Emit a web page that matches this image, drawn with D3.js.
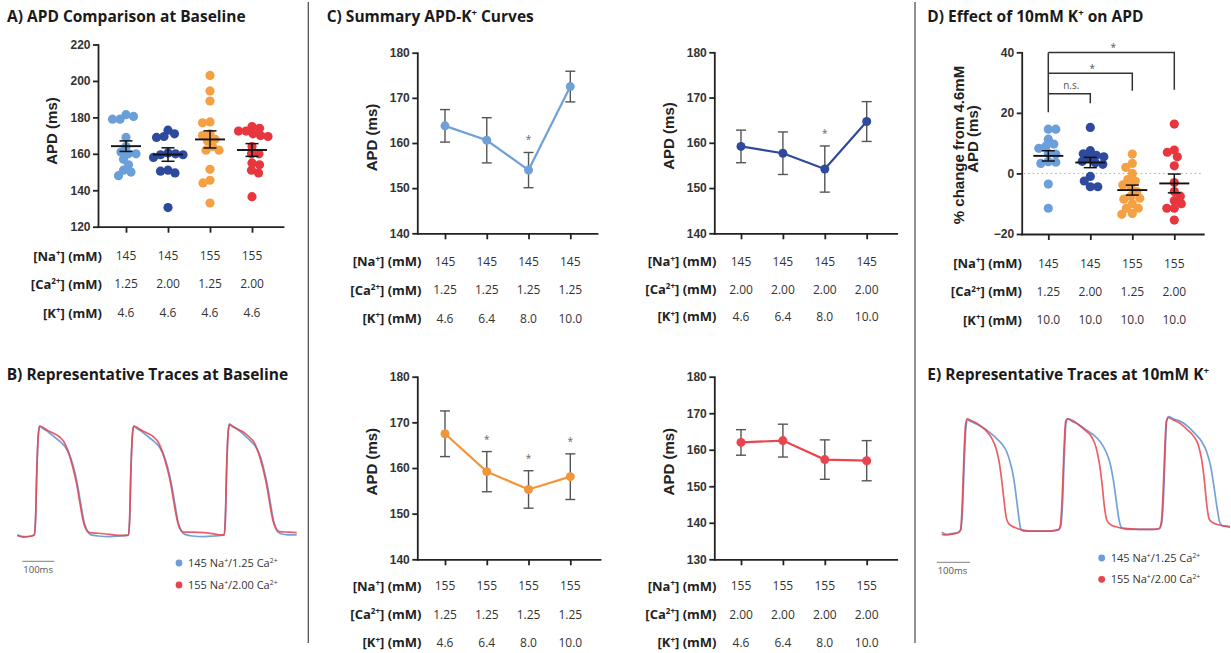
<!DOCTYPE html>
<html>
<head>
<meta charset="utf-8">
<script src="https://cdn.jsdelivr.net/npm/d3@7"></script>
<style>
  html, body { margin: 0; padding: 0; background: #fff; }
  svg { display: block; }
  text { font-family: "Open Sans", sans-serif; }
  .axis path, .axis line { stroke: #222; stroke-width: 1.8; }
  .axis text { font-family: "Liberation Sans", Arial, sans-serif; font-weight: bold; font-size: 12px; fill: #333; }
  .title { font-weight: bold; fill: #1a1a1a; }
  .rowlab { font-weight: bold; fill: #222; }
  .rowval { fill: #333; }
  .ylab { font-family: "Liberation Sans", Arial, sans-serif; font-weight: bold; fill: #222; }
</style>
</head>
<body>
<svg id="fig" width="1231" height="653"></svg>
<script>
// ---------------- data ----------------
const groupColors = ["#6a9fd9", "#2e4a9e", "#f5a043", "#e8363f"];

// A) APD at baseline (ms), one value per preparation
const apdBase_145Na_125Ca = [180.5, 179, 179, 181.5, 169, 164, 161, 160, 160, 154, 157, 148, 150, 151];
const apdBase_145Na_200Ca = [173, 171, 169.5, 169, 160.5, 160, 159.5, 159.5, 158, 151, 149.5, 150.5, 130.5];
const apdBase_155Na_125Ca = [203, 194.5, 189, 177.5, 177, 171, 170, 168, 167, 164, 162, 162, 151.5, 144, 145.5, 133];
const apdBase_155Na_200Ca = [175, 174, 172.5, 172.5, 171, 170, 169.5, 164, 160, 160, 155, 154, 151, 149.5, 136.5];
const apdBaseMean = [164.2, 159.6, 167.9, 162.1];
const apdBaseSem = [2.9, 3.7, 4.7, 3.5];
const apdTicksA = [120, 140, 160, 180, 200, 220];
const naByGroup = ["145", "145", "155", "155"];
const caByGroup = ["1.25", "2.00", "1.25", "2.00"];
const kBaseline = ["4.6", "4.6", "4.6", "4.6"];

// C) mean APD (ms) +/- SEM across K+ steps
const kSteps = ["4.6", "6.4", "8.0", "10.0"];
const apdK_145Na_125Ca = [163.8, 160.6, 154.0, 172.5];
const semK_145Na_125Ca = [3.6, 5.0, 3.9, 3.4];
const sigK_145Na_125Ca = [0, 0, 1, 0];
const apdK_145Na_200Ca = [159.2, 157.7, 154.2, 164.7];
const semK_145Na_200Ca = [3.6, 4.7, 5.1, 4.4];
const sigK_145Na_200Ca = [0, 0, 1, 0];
const apdK_155Na_125Ca = [167.5, 159.2, 155.3, 158.1];
const semK_155Na_125Ca = [5.0, 4.4, 4.1, 5.0];
const sigK_155Na_125Ca = [0, 1, 1, 1];
const apdK_155Na_200Ca = [162.0, 162.5, 157.3, 157.0];
const semK_155Na_200Ca = [3.5, 4.5, 5.4, 5.5];
const sigK_155Na_200Ca = [0, 0, 0, 0];
const apdTicksC = [140, 150, 160, 170, 180];
const apdTicksC4 = [130, 140, 150, 160, 170, 180];

// D) % change of APD at 10 mM K+ relative to 4.6 mM
const pct_145Na_125Ca = [14.6, 14.6, 11.3, 9.7, 8.3, 9.0, 6.6, 6.4, 3.9, 3.7, 3.3, -3.5, -11.5];
const pct_145Na_200Ca = [15.2, 7.5, 6.5, 6, 5.5, 5, 4, 3.5, 3, -1, -2.5, -4.4, -4.4];
const pct_155Na_125Ca = [6.4, 3.3, 2, 0, -2, -2.5, -3.8, -4.5, -6, -7.5, -8.2, -8.5, -10, -11.5, -11.5, -13.2, -13.5];
const pct_155Na_200Ca = [16.3, 7.7, 7, 5.5, 2.5, -3, -6, -7.5, -9, -10, -11.5, -11.5, -15.4];
const pctMean = [5.8, 3.6, -5.5, -3.3];
const pctSem = [1.7, 1.7, 1.65, 3.1];
const pctTicks = [-20, 0, 20, 40];
const kHigh = ["10.0", "10.0", "10.0", "10.0"];
const pctComparisons = [[0, 1, "n.s."], [0, 2, "*"], [0, 3, "*"]];

// B) optical AP traces at baseline: [time ms, normalised signal]
const traceB_145Na_125Ca = [
  [0,0.01],[19,-0.006],[45,0],[53,0.01],[57,0.15],[61,0.6],[66,0.93],[70,1.0],[78,0.98],[95,0.95],[116,0.9],[137,0.85],[152,0.8],[168,0.7],[178,0.6],[189,0.45],[199,0.28],[209,0.12],[218,0.05],[230,0.01],[253,0],[290,-0.005],[321,0],[342,0.005],
  [347,0.01],[351,0.15],[355,0.6],[360,0.93],[364,1.0],[372,0.98],[389,0.95],[410,0.9],[431,0.85],[446,0.8],[462,0.7],[472,0.6],[483,0.45],[493,0.28],[503,0.12],[512,0.05],[524,0.015],[547,0],[584,-0.005],[615,0],[636,0.005],
  [646,0.01],[650,0.15],[654,0.61],[659,0.95],[663,1.02],[671,1.0],[688,0.97],[709,0.92],[730,0.86],[745,0.81],[761,0.71],[771,0.6],[782,0.45],[792,0.28],[802,0.12],[811,0.05],[823,0.02],[846,0.01],[873,0.01]
];
const traceB_155Na_200Ca = [
  [0,0.005],[19,-0.01],[45,0],[53,0.01],[57,0.15],[61,0.6],[66,0.93],[70,1.0],[78,0.99],[95,0.96],[116,0.93],[132,0.9],[147,0.85],[160,0.76],[173,0.63],[185,0.48],[195,0.31],[205,0.15],[215,0.06],[226,0.03],[255,0.025],[290,0.015],[320,0.005],[342,0.005],
  [347,0.01],[351,0.15],[355,0.6],[360,0.93],[364,1.0],[372,0.99],[389,0.96],[410,0.93],[426,0.9],[441,0.85],[454,0.76],[467,0.63],[479,0.48],[489,0.31],[499,0.15],[509,0.06],[520,0.035],[549,0.035],[584,0.03],[614,0.02],[636,0.01],
  [646,0.01],[650,0.15],[654,0.6],[659,0.95],[663,1.01],[671,1.0],[688,0.97],[709,0.94],[725,0.9],[740,0.85],[753,0.76],[766,0.63],[778,0.48],[788,0.31],[798,0.15],[808,0.07],[819,0.04],[848,0.035],[873,0.03]
];

// E) optical AP traces at 10 mM K+: [time ms, normalised signal]
const traceE_145Na_125Ca = [
  [0,0.01],[15,-0.01],[35,0],[50,0.01],[57,0.03],[63,0.24],[68,0.65],[73,0.94],[78,1.0],[85,0.99],[100,0.97],[120,0.94],[140,0.9],[160,0.85],[180,0.79],[195,0.72],[207,0.61],[217,0.47],[225,0.29],[231,0.15],[237,0.04],[245,0.02],[265,0.02],[295,0.02],[325,0.02],
  [350,0.03],[357,0.06],[363,0.29],[368,0.71],[373,0.97],[378,1.01],[390,0.99],[410,0.96],[435,0.91],[455,0.87],[475,0.81],[493,0.72],[505,0.62],[515,0.47],[525,0.26],[532,0.12],[540,0.05],[555,0.035],[595,0.035],[635,0.035],
  [653,0.04],[660,0.09],[666,0.35],[671,0.76],[675,0.99],[681,1.03],[695,1.01],[715,0.99],[740,0.94],[760,0.88],[780,0.81],[795,0.72],[807,0.59],[817,0.41],[827,0.21],[835,0.09],[845,0.065],[865,0.06]
];
const traceE_155Na_200Ca = [
  [0,-0.01],[15,-0.015],[35,-0.005],[50,0.005],[57,0.035],[62,0.29],[67,0.71],[72,0.97],[77,1.01],[85,1.0],[100,0.98],[120,0.94],[135,0.9],[150,0.84],[163,0.75],[173,0.62],[180,0.47],[187,0.29],[193,0.15],[200,0.09],[210,0.065],[225,0.045],[240,0.03],[265,0.02],[295,0.02],[325,0.02],
  [350,0.03],[356,0.07],[362,0.35],[367,0.74],[372,0.99],[377,1.01],[390,1.0],[410,0.96],[430,0.91],[450,0.85],[463,0.76],[473,0.62],[481,0.44],[488,0.24],[495,0.12],[505,0.08],[520,0.06],[540,0.045],[595,0.035],[635,0.035],
  [653,0.045],[659,0.1],[665,0.41],[670,0.79],[674,0.99],[680,1.02],[695,1.0],[715,0.97],[735,0.92],[755,0.86],[770,0.78],[780,0.65],[788,0.47],[795,0.26],[802,0.13],[810,0.1],[825,0.08],[845,0.065],[865,0.055]
];
const traceColors = ["#6d9dd6", "#e8434c"];
const traceLegend = [
  ["145 Na", {sup: "+"}, "/1.25 Ca", {sup: "2+"}],
  ["155 Na", {sup: "+"}, "/2.00 Ca", {sup: "2+"}]
];
const scaleBarMs = 100;

// ---------------- helpers ----------------
const svg = d3.select("#fig");

// text with superscript runs
function rich(g, x, y, parts, size) {
  const t = g.append("text").attr("x", x).attr("y", y).attr("font-size", size);
  const rise = size * 0.36, supSize = size * 0.62;
  let cur = 0;
  for (const p of parts) {
    const sup = typeof p === "object";
    const ts = t.append("tspan").text(sup ? p.sup : p);
    const target = sup ? -rise : 0;
    if (target !== cur) { ts.attr("dy", target - cur); cur = target; }
    if (sup) ts.attr("font-size", supSize);
  }
  return t;
}

// point scale whose axis line spans axX..axEnd with categories at catFirst..catLast
function catScale(L, n) {
  const step = (L.catLast - L.catFirst) / (n - 1);
  const R = L.axEnd - L.axX;
  const pad = (R / step - (n - 1)) / 2;
  const align = (L.catFirst - L.axX) / (R - (n - 1) * step);
  return d3.scalePoint().domain(d3.range(n)).range([L.axX, L.axEnd]).padding(pad).align(align);
}

function drawAxes(g, L, x, y, ticks) {
  g.append("g").attr("class", "axis")
    .attr("transform", `translate(${L.axX},0)`)
    .call(d3.axisLeft(y).tickValues(ticks).tickSize(5).tickSizeOuter(0).tickPadding(2.5));
  g.append("g").attr("class", "axis")
    .attr("transform", `translate(0,${L.yBot})`)
    .call(d3.axisBottom(x).tickSize(6).tickSizeOuter(0).tickFormat(""));
  g.selectAll(".axis path").attr("stroke-linecap", "square");
}

const rowLabels = [
  ["[Na", {sup: "+"}, "] (mM)"],
  ["[Ca", {sup: "2+"}, "] (mM)"],
  ["[K", {sup: "+"}, "] (mM)"]
];

function conditionRows(g, L, x, rows) {
  rows.forEach((vals, r) => {
    rich(g, L.labelX, L.rowY[r] + 4.6, rowLabels[r], 13).attr("class", "rowlab").attr("text-anchor", "end");
    vals.forEach((v, i) => {
      g.append("text").attr("class", "rowval").attr("x", x(i)).attr("y", L.rowY[r] + 4.2)
        .attr("text-anchor", "middle").attr("font-size", 12).text(v);
    });
  });
}

function yLabel(g, pos, txt, size) {
  g.append("text").attr("class", "ylab").attr("font-size", size || 15)
    .attr("transform", `translate(${pos[0]},${pos[1]}) rotate(-90)`)
    .attr("text-anchor", "middle").text(txt);
}

// compact beeswarm: horizontal offsets so dots only slightly overlap
function swarm(py, minD) {
  const order = d3.range(py.length).sort((a, b) => py[a] - py[b]);
  const placed = [], off = new Array(py.length);
  order.forEach((i, n) => {
    for (let k = 0; k < 400; k++) {
      const m = k * 0.5;
      const cands = m === 0 ? [0] : (n % 2 ? [m, -m] : [-m, m]);
      for (const c of cands) {
        if (placed.every(p => Math.hypot(p.x - c, p.y - py[i]) >= minD)) {
          off[i] = c; placed.push({x: c, y: py[i]}); return;
        }
      }
    }
  });
  return off;
}

function scatterPanel(g, L, domain, ticks, groups, means, sems) {
  const y = d3.scaleLinear().domain(domain).range([L.yBot, L.yTop]);
  const x = catScale(L, groups.length);
  drawAxes(g, L, x, y, ticks);
  if (L.zeroLine) {
    g.append("line").attr("x1", L.axX + 2).attr("x2", L.axEnd).attr("y1", y(0)).attr("y2", y(0))
      .attr("stroke", "#aaa").attr("stroke-width", 1).attr("stroke-dasharray", "1.5,3");
  }
  const r = 4.6;
  groups.forEach((vals, gi) => {
    const off = swarm(vals.map(y), 7.3);
    g.append("g").selectAll("circle").data(vals).join("circle")
      .attr("cx", (d, i) => x(gi) + off[i]).attr("cy", d => y(d)).attr("r", r)
      .attr("fill", groupColors[gi]);
  });
  const mg = g.append("g").attr("stroke", "#111").attr("fill", "none");
  means.forEach((m, i) => {
    const cx = x(i);
    mg.append("line").attr("x1", cx - 15).attr("x2", cx + 15).attr("y1", y(m)).attr("y2", y(m)).attr("stroke-width", 1.9);
    mg.append("line").attr("x1", cx).attr("x2", cx).attr("y1", y(m + sems[i])).attr("y2", y(m - sems[i])).attr("stroke-width", 1.5);
    [m + sems[i], m - sems[i]].forEach(v =>
      mg.append("line").attr("x1", cx - 6.5).attr("x2", cx + 6.5).attr("y1", y(v)).attr("y2", y(v)).attr("stroke-width", 1.5));
  });
  return {x, y};
}

function linePanel(g, L, domain, ticks, means, sems, sig, color) {
  const y = d3.scaleLinear().domain(domain).range([L.yBot, L.yTop]);
  const x = catScale(L, means.length);
  drawAxes(g, L, x, y, ticks);
  const eb = g.append("g").attr("stroke", "#555").attr("stroke-width", 1.4).attr("fill", "none");
  means.forEach((m, i) => {
    const cx = x(i);
    eb.append("line").attr("x1", cx).attr("x2", cx).attr("y1", y(m + sems[i])).attr("y2", y(m - sems[i]));
    [m + sems[i], m - sems[i]].forEach(v =>
      eb.append("line").attr("x1", cx - 5).attr("x2", cx + 5).attr("y1", y(v)).attr("y2", y(v)));
  });
  g.append("path").datum(means)
    .attr("d", d3.line().x((d, i) => x(i)).y(d => y(d)))
    .attr("fill", "none").attr("stroke", color).attr("stroke-width", 2.2);
  g.append("g").selectAll("circle").data(means).join("circle")
    .attr("cx", (d, i) => x(i)).attr("cy", d => y(d)).attr("r", 4.5).attr("fill", color);
  means.forEach((m, i) => {
    if (!sig[i]) return;
    g.append("text").attr("x", x(i)).attr("y", y(m + sems[i]) - 9).attr("text-anchor", "middle")
      .attr("font-size", 10).attr("fill", "#666").text("*");
  });
  return {x, y};
}

function tracePanel(g, L, series) {
  const x = d3.scaleLinear().domain(L.tDomain).range([L.xLeft, L.xRight]);
  const y = d3.scaleLinear().domain([0, 1]).range([L.yBase, L.yPeak]);
  const line = d3.line().x(d => x(d[0])).y(d => y(d[1])).curve(d3.curveMonotoneX);
  series.forEach((s, i) => {
    g.append("path").datum(s).attr("d", line).attr("fill", "none")
      .attr("stroke", traceColors[i]).attr("stroke-width", 1.7)
      .attr("stroke-linejoin", "round").attr("opacity", i === 0 ? 0.95 : 0.85);
  });
  // time scale bar
  const len = x(scaleBarMs) - x(0);
  g.append("line").attr("x1", L.barX).attr("x2", L.barX + len).attr("y1", L.barY).attr("y2", L.barY)
    .attr("stroke", "#999").attr("stroke-width", 1.3);
  g.append("text").attr("x", L.barX + 1).attr("y", L.barY + 12).attr("font-size", 9.5).attr("fill", "#555")
    .text(scaleBarMs + "ms");
  // legend
  traceLegend.forEach((parts, i) => {
    const cy = L.legY[i];
    g.append("circle").attr("cx", L.legX).attr("cy", cy).attr("r", 3.4).attr("fill", traceColors[i]);
    rich(g, L.legX + 9, cy + 4, parts, 11).attr("fill", "#333");
  });
}

function title(g, x, y, parts) {
  rich(g, x, y, parts, 15.5).attr("class", "title");
}

// ---------------- panel dividers ----------------
[308.3, 915].forEach(px => {
  svg.append("line").attr("x1", px).attr("x2", px).attr("y1", 2).attr("y2", 643)
    .attr("stroke", "#555").attr("stroke-width", 1.3);
});

// ---------------- A ----------------
const gA = svg.append("g");
title(gA, 7, 21.5, ["A) APD Comparison at Baseline"]);
const LA = {axX: 98, axEnd: 283, catFirst: 126, catLast: 252, yTop: 44.5, yBot: 226.7, labelX: 102, rowY: [256, 284, 313]};
const sA = scatterPanel(gA, LA, [120, 220], apdTicksA,
  [apdBase_145Na_125Ca, apdBase_145Na_200Ca, apdBase_155Na_125Ca, apdBase_155Na_200Ca], apdBaseMean, apdBaseSem);
yLabel(gA, [57, 131], "APD  (ms)");
conditionRows(gA, LA, sA.x, [naByGroup, caByGroup, kBaseline]);

// ---------------- B ----------------
const gB = svg.append("g");
title(gB, 6.7, 379.5, ["B) Representative Traces at Baseline"]);
tracePanel(gB, {tDomain: [0, 873], xLeft: 17.3, xRight: 296.7, yBase: 536, yPeak: 426,
  barX: 22.3, barY: 561.3, legX: 179, legY: [563, 585]},
  [traceB_145Na_125Ca, traceB_155Na_200Ca]);

// ---------------- C ----------------
const gC = svg.append("g");
title(gC, 326.7, 21.5, ["C) Summary APD-K", {sup: "+"}, " Curves"]);
const LC1 = {axX: 417.3, axEnd: 597, catFirst: 445, catLast: 570.3, yTop: 52.7, yBot: 233.3, labelX: 421.5, rowY: [261.7, 290, 318.3]};
const LC2 = {axX: 714.3, axEnd: 896.7, catFirst: 741, catLast: 866.7, yTop: 52.3, yBot: 233.3, labelX: 716.5, rowY: [261.7, 289.3, 316.7]};
const LC3 = {axX: 417.3, axEnd: 600, catFirst: 445, catLast: 570.3, yTop: 376.7, yBot: 559.3, labelX: 421.5, rowY: [586, 614.3, 642.7]};
const LC4 = {axX: 714.3, axEnd: 896.7, catFirst: 741, catLast: 866.7, yTop: 376.7, yBot: 559.3, labelX: 716.5, rowY: [586, 614.3, 642.7]};
const same = v => kSteps.map(() => v);

const c1 = linePanel(gC, LC1, [140, 180], apdTicksC, apdK_145Na_125Ca, semK_145Na_125Ca, sigK_145Na_125Ca, "#6fa0d8");
yLabel(gC, [376.5, 137.5], "APD  (ms)");
conditionRows(gC, LC1, c1.x, [same("145"), same("1.25"), kSteps]);

const c2 = linePanel(gC, LC2, [140, 180], apdTicksC, apdK_145Na_200Ca, semK_145Na_200Ca, sigK_145Na_200Ca, "#2f4a9c");
yLabel(gC, [673.5, 136], "APD  (ms)");
conditionRows(gC, LC2, c2.x, [same("145"), same("2.00"), kSteps]);

const c3 = linePanel(gC, LC3, [140, 180], apdTicksC, apdK_155Na_125Ca, semK_155Na_125Ca, sigK_155Na_125Ca, "#f29539");
yLabel(gC, [376.5, 461.7], "APD  (ms)");
conditionRows(gC, LC3, c3.x, [same("155"), same("1.25"), kSteps]);

const c4 = linePanel(gC, LC4, [130, 180], apdTicksC4, apdK_155Na_200Ca, semK_155Na_200Ca, sigK_155Na_200Ca, "#ea454c");
yLabel(gC, [673.5, 461.7], "APD  (ms)");
conditionRows(gC, LC4, c4.x, [same("155"), same("2.00"), kSteps]);

// ---------------- D ----------------
const gD = svg.append("g");
title(gD, 927.3, 21.5, ["D) Effect of 10mM K", {sup: "+"}, " on APD"]);
const LD = {axX: 1021.7, axEnd: 1203.3, catFirst: 1048.3, catLast: 1174.3, yTop: 52.3, yBot: 234, labelX: 1022, rowY: [263.3, 291.7, 320], zeroLine: true};
const sD = scatterPanel(gD, LD, [-20, 40], pctTicks,
  [pct_145Na_125Ca, pct_145Na_200Ca, pct_155Na_125Ca, pct_155Na_200Ca], pctMean, pctSem);
gD.append("text").attr("class", "ylab").attr("font-size", 15)
  .attr("transform", "translate(964,145) rotate(-90)").attr("text-anchor", "middle").text("% change from 4.6mM");
gD.append("text").attr("class", "ylab").attr("font-size", 15)
  .attr("transform", "translate(978,139) rotate(-90)").attr("text-anchor", "middle").text("APD (ms)");
conditionRows(gD, LD, sD.x, [naByGroup, caByGroup, kHigh]);

// significance brackets (heights in % units, right leg drop in %)
const bracketLevels = [26.3, 33.1, 39.9];
const bracketDrop = [3.1, 5.8, 12.3];
const br = gD.append("g").attr("stroke", "#333").attr("stroke-width", 1.5).attr("fill", "none");
br.append("line").attr("x1", sD.x(0)).attr("x2", sD.x(0))
  .attr("y1", sD.y(bracketLevels[2])).attr("y2", sD.y(20.2));
pctComparisons.forEach(([a, b, lab], i) => {
  const yy = sD.y(bracketLevels[i]);
  br.append("path").attr("d", `M${sD.x(a)},${yy}H${sD.x(b)}V${sD.y(bracketLevels[i] - bracketDrop[i])}`);
  const isStar = lab === "*";
  gD.append("text").attr("x", (sD.x(a) + sD.x(b)) / 2 + 2).attr("y", yy - (isStar ? 1.5 : 5))
    .attr("text-anchor", "middle").attr("font-size", 10).attr("fill", "#555").text(lab);
});

// ---------------- E ----------------
const gE = svg.append("g");
title(gE, 927.3, 379.5, ["E) Representative Traces at 10mM K", {sup: "+"}]);
tracePanel(gE, {tDomain: [0, 865], xLeft: 941.7, xRight: 1230, yBase: 533.3, yPeak: 420,
  barX: 936.7, barY: 562.3, legX: 1101.7, legY: [558, 579.3]},
  [traceE_145Na_125Ca, traceE_155Na_200Ca]);
</script>
</body>
</html>
